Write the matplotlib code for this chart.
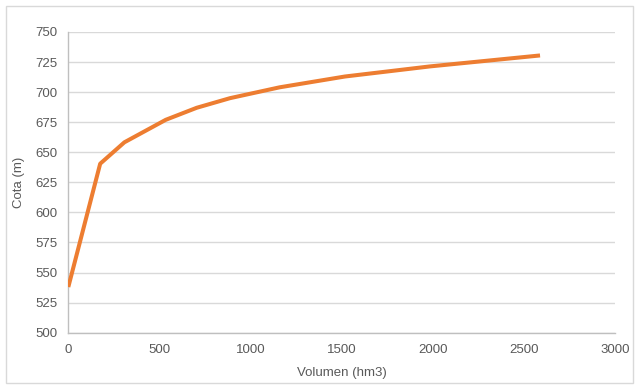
import matplotlib.pyplot as plt
from matplotlib.patches import Rectangle

# volume (hm3) vs elevation (m)
volumen = [0, 175, 308, 535, 705, 888, 1160, 1519, 1986, 2590]
cota = [538, 640.5, 658.3, 677, 687, 695, 704, 713, 721.4, 730.5]

xticks = [0, 500, 1000, 1500, 2000, 2500, 3000]
yticks = [500, 525, 550, 575, 600, 625, 650, 675, 700, 725, 750]

plt.rcParams['font.family'] = ['Liberation Sans', 'DejaVu Sans']


def main():
    fig = plt.figure(figsize=(6.39, 3.85), dpi=100)
    ax = fig.add_axes([0.1069, 0.1358, 0.8551, 0.7811])

    ax.plot(volumen, cota, color='#ED7D31', lw=2.9, solid_capstyle='butt', zorder=3)

    ax.set_xlim(0, 3000)
    ax.set_ylim(500, 750)
    ax.set_xticks(xticks)
    ax.set_yticks(yticks)
    ax.tick_params(axis='both', length=0, labelsize=9.5, colors='#595959')
    ax.tick_params(axis='y', pad=8)
    ax.tick_params(axis='x', pad=8)
    ax.grid(axis='y', color='#D9D9D9', lw=1)
    ax.set_axisbelow(True)

    for s in ['top', 'right']:
        ax.spines[s].set_visible(False)
    ax.spines['left'].set_color('#BFBFBF')
    ax.spines['bottom'].set_color('#BFBFBF')
    ax.spines['left'].set_linewidth(1)
    ax.spines['bottom'].set_linewidth(1)

    ax.set_xlabel('Volumen (hm3)', fontsize=9.5, color='#595959', labelpad=8)
    ax.set_ylabel('Cota (m)', fontsize=9.5, color='#595959', labelpad=7)

    # chart border
    fig.patches.append(Rectangle((0.009, 0.005), 0.982, 0.98, transform=fig.transFigure,
                                 fill=False, edgecolor='#D9D9D9', lw=1))

    fig.savefig('out.png', dpi=100)


if __name__ == "__main__":
    main()
